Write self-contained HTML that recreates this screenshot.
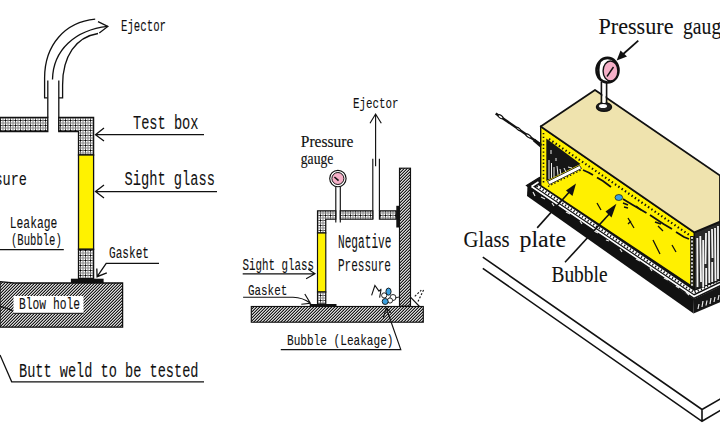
<!DOCTYPE html>
<html><head><meta charset="utf-8">
<style>
html,body{margin:0;padding:0;background:#fff;width:720px;height:426px;overflow:hidden}
svg{display:block}
text{font-family:"Liberation Mono",monospace;fill:#111;stroke:#111;stroke-width:0.1px}
text.sf{font-family:"Liberation Serif",serif;stroke-width:0.1px}
text.sm{stroke-width:0.15px}
</style></head><body>
<svg width="720" height="426" viewBox="0 0 720 426">
<defs>
<pattern id="grid" width="5" height="5" patternUnits="userSpaceOnUse">
<rect width="5" height="5" fill="#fff"/>
<rect x="0" y="0" width="5" height="1" fill="#555"/>
<rect x="0" y="0" width="1" height="5" fill="#555"/>
<rect x="0" y="2.5" width="5" height="1" fill="#888"/>
<rect x="2.5" y="0" width="1" height="5" fill="#888"/>
<rect x="0" y="0" width="1" height="1" fill="#000"/>
</pattern>
<pattern id="diag" width="3" height="3" patternUnits="userSpaceOnUse">
<rect width="3" height="3" fill="#dcdcdc"/>
<rect x="2" y="0" width="1" height="1" fill="#1a1a1a"/><rect x="1" y="0" width="1" height="1" fill="#8a8a8a"/>
<rect x="1" y="1" width="1" height="1" fill="#1a1a1a"/><rect x="0" y="1" width="1" height="1" fill="#8a8a8a"/>
<rect x="0" y="2" width="1" height="1" fill="#1a1a1a"/><rect x="2" y="2" width="1" height="1" fill="#8a8a8a"/>
</pattern>
</defs>

<g id="left" stroke="#111" stroke-width="1.3" fill="none">
<!-- hose -->
<path d="M47.4,97.8 L44.6,97.8 L44.6,78 C44.6,45 65,22 95.2,19.2"/>
<path d="M52.5,79.5 C53,50 75,30 107.8,26.4"/>
<path d="M58.8,97.8 L62.6,97.8 L62.6,85 C62.6,56 76,37 98,33.5"/>
<path d="M98,21.7 L107.8,26.4 L99.3,32.9"/>
<!-- pipe -->
<path d="M47.8,80.5 V117.5"/>
<path d="M58.8,80.5 V131.5"/>
<!-- hatched walls -->
<path d="M0,117.5 H47.8 V131.5 H0 Z" fill="url(#grid)"/>
<path d="M58.8,117.5 H93.6 V155 H78.5 V131.5 H58.8 Z" fill="url(#grid)"/>
<rect x="78.5" y="155" width="15.1" height="94.3" fill="#fff200"/>
<rect x="78.5" y="249.3" width="15.1" height="29.3" fill="url(#grid)"/>
<rect x="70.9" y="278.7" width="32.7" height="4.3" fill="#111" stroke="none"/>
<!-- base -->
<path d="M0,281.7 L14,283 H122.6 V327.2 H0 Z" fill="url(#diag)"/>
<!-- arrows -->
<path d="M204,134.7 H95.5 M104,128 L95.5,134.7 L104,141"/>
<path d="M217,191.6 H95.5 M104,185 L95.5,191.6 L104,198"/>
<path d="M159,263.4 H106.2 L97.1,276.7 M96.8,268.5 L97.1,276.7 L106.8,272.8"/>
<path d="M0,249.7 H63.8"/>
<path d="M0,355 L11.7,381.8 H204"/>
<path d="M0,306 L12.6,310.6"/>
</g>
<rect x="13.5" y="296" width="70" height="17.3" fill="#fff"/>
<path d="M13.5,313.3 H83.5" stroke="#111" stroke-width="1"/>

<g id="lefttext">
<text x="121" y="31" font-size="16.8" textLength="45" lengthAdjust="spacingAndGlyphs">Ejector</text>
<text x="133" y="129" font-size="19.7" textLength="65.5" lengthAdjust="spacingAndGlyphs">Test box</text>
<text x="124.5" y="185" font-size="19.7" textLength="90.5" lengthAdjust="spacingAndGlyphs">Sight glass</text>
<text x="-38" y="185.4" font-size="19" textLength="65" lengthAdjust="spacingAndGlyphs">Pressure</text>
<text x="9.8" y="227.6" font-size="16" textLength="47.5" lengthAdjust="spacingAndGlyphs">Leakage</text>
<text x="11" y="244.5" font-size="16" textLength="50.8" lengthAdjust="spacingAndGlyphs">(Bubble)</text>
<text x="109" y="257.9" font-size="16" textLength="40" lengthAdjust="spacingAndGlyphs">Gasket</text>
<text x="19" y="309.4" font-size="16" textLength="61" lengthAdjust="spacingAndGlyphs">Blow hole</text>
<text x="19" y="376.9" font-size="21" textLength="179.5" lengthAdjust="spacingAndGlyphs">Butt weld to be tested</text>
</g>

<g id="mid" stroke="#111" stroke-width="1.15" fill="none">
<path d="M375.6,114 V166.3 M370,123.3 L375.6,114 L381.3,123.3"/>
<path d="M372.8,158.8 V219.2"/>
<path d="M379.4,158.8 V210.8"/>
<circle cx="337.9" cy="178.5" r="8.2" fill="#fff"/>
<circle cx="337.9" cy="178.5" r="6" fill="#f6b0c8" stroke-width="1"/>
<path d="M334.4,177 L338.6,180.7" stroke-width="1.6"/>
<path d="M335.8,186.7 V222.5 M340.3,186.7 V222.5"/>
<path d="M317.5,210.8 H335.8 V219.2 H325.8 V233 H317.5 Z" fill="url(#grid)"/>
<path d="M340.3,210.8 H372.8 V219.2 H340.3 Z" fill="url(#grid)"/>
<path d="M379.4,210.8 H396.3 V219.2 H379.4 Z" fill="url(#grid)"/>
<rect x="317.5" y="233" width="8.3" height="59" fill="#fff200"/>
<rect x="317.5" y="292" width="8.3" height="12" fill="url(#grid)"/>
<rect x="396.3" y="205.8" width="3" height="21.7" fill="#111" stroke="none"/>
<rect x="399.5" y="168.2" width="11" height="138" fill="url(#diag)"/>
<rect x="251.3" y="306.5" width="172" height="15.7" fill="url(#diag)"/>
<rect x="309.7" y="304" width="26.8" height="2.8" fill="#111" stroke="none"/>
<path d="M410.5,297.2 L419.5,306.5"/>
<path d="M242.7,273.8 H315 M308.2,269.3 L315,273.8 L306.1,278.7"/>
<path d="M243.1,297.2 H293 Q303,297.5 310.4,303.2 M304.8,294 L310.4,303.2 L301.3,304.2"/>
<path d="M280.8,349.6 H400.8 L386.2,308 M383.4,317.5 L386.2,308 L391,312.6"/>
<path d="M414.8,296.3 L421.3,290.2 M418,301.5 L423.7,289.7" stroke-width="1.1" stroke-dasharray="2 1.6"/>
</g>
<g id="bubbles" stroke="#111" stroke-width="0.9">
<path d="M371.6,295.4 L374.9,285.5 L379,291.1 L381.4,288.8 M379.6,297.7 L381,290" fill="none" stroke-width="1.1"/>
<circle cx="384.2" cy="295.4" r="2.6" fill="#fff"/>
<circle cx="393" cy="297.5" r="3" fill="#fff"/>
<circle cx="390" cy="300.5" r="2.6" fill="#fff"/>
<ellipse cx="388.5" cy="291.6" rx="2.6" ry="3.6" fill="#3aa0e0"/>
<ellipse cx="385.2" cy="301.5" rx="3" ry="3" fill="#3aa0e0"/>
<path d="M395,298 L399,297" fill="none"/>
</g>
<g id="midtext">
<text x="353" y="108" font-size="15" textLength="45.5" lengthAdjust="spacingAndGlyphs">Ejector</text>
<text class="sf sm" x="300.8" y="147" font-size="16.2" textLength="52.5" lengthAdjust="spacingAndGlyphs">Pressure</text>
<text class="sf sm" x="300.8" y="164.3" font-size="16.2" textLength="32.5" lengthAdjust="spacingAndGlyphs">gauge</text>
<text x="338" y="248.3" font-size="19.5" textLength="53.5" lengthAdjust="spacingAndGlyphs">Negative</text>
<text x="338" y="271" font-size="18" textLength="53" lengthAdjust="spacingAndGlyphs">Pressure</text>
<text x="242.5" y="270" font-size="15.6" textLength="71.5" lengthAdjust="spacingAndGlyphs">Sight glass</text>
<text x="248" y="294.6" font-size="14.6" textLength="39.2" lengthAdjust="spacingAndGlyphs">Gasket</text>
<text x="287" y="344.6" font-size="15" textLength="106.5" lengthAdjust="spacingAndGlyphs">Bubble (Leakage)</text>
</g>

<g id="right">
<!-- board -->
<path d="M482.8,257.2 L702,409.5 L721,398.5 M482.8,268.3 L702,421.3 L721,410 M702,409.5 V421.3" stroke="#111" stroke-width="1.6" fill="none"/>
<!-- platform top surface -->
<path d="M526.5,185.5 L539.5,177.5 L720,270 L720,286 L694,298.5 Z" fill="#111" stroke="#111" stroke-width="1.2"/>
<path d="M531.5,186.5 L538.5,182 M531.5,186.5 L694,296.5 L720,284" stroke="#fff" stroke-width="1.6" fill="none"/>
<path d="M537,186 L694,292.5 L720,280" stroke="#fff" stroke-width="2.8" fill="none"/>
<path d="M537,186 L694,292.5 L720,280" stroke="#111" stroke-width="2.2" fill="none" stroke-dasharray="1.2 2.2"/>
<!-- platform front black -->
<path d="M527.5,185.5 L694,299 L693.5,313.5 L527,196 Z" fill="#111"/>
<path d="M694,299 L720,286.5 L720,302.3 L693.5,313.5 Z" fill="#161616"/>
<path d="M533,192 l2,4 M541,197 l4,2 M552,203 l2,3 M566,212 l4,2 M580,221 l2,3 M594,231 l4,2 M606,240 l3,1 M620,249 l2,3 M636,259 l4,2 M650,268 l2,3 M664,278 l4,2 M676,286 l3,2 M686,292 l3,3" stroke="#e8e8e8" stroke-width="1.2" fill="none"/>
<path d="M698,309 l1,-5 M702,307 l1,-6 M706,305.5 l1,-5 M710,304 l1,-6 M714,302 l1,-5 M718,300 l1,-5" stroke="#e8e8e8" stroke-width="1.2" fill="none"/>
<!-- box front (yellow) -->
<path d="M540.7,126.5 L694.4,232.4 L694.4,288 L540.7,185.5 Z" fill="#fff000" stroke="#111" stroke-width="1.4"/>
<!-- inner dark triangle -->
<path d="M546.3,138.5 L546.3,181 L580.5,164 Z" fill="#161616"/>
<path d="M549,160 V179 M551.5,163 V178 M554,167 V177 M557,166 l1,9 M560,169 l1,6 M564,168 l2,4 M568,167 l4,1 M551,150 v4 M556,158 v3" stroke="#eee" stroke-width="1" fill="none"/>
<!-- glass plate strip -->
<path d="M547.5,181.5 L579.5,165.5 L581.5,168.5 L549.5,184.5 Z" fill="#fff" stroke="#111" stroke-width="0.8"/>
<path d="M548,186.5 L582,169.5" stroke="#111" stroke-width="1.2" stroke-dasharray="1.5 2" fill="none"/>
<!-- dotted borders on yellow -->
<path d="M543.5,133 V183" stroke="#111" stroke-width="1.6" stroke-dasharray="1.3 2.4" fill="none"/>
<path d="M549,139 L690,235.5" stroke="#111" stroke-width="2.2" stroke-dasharray="1.4 2.6" fill="none"/>

<path d="M692,236 L692,288" stroke="#111" stroke-width="3.6" fill="none"/><path d="M692,237 L692,287" stroke="#fff" stroke-width="1.6" fill="none" stroke-dasharray="2 1.6"/>
<!-- streaks on glass -->
<path d="M583,170 Q588,172 593,175 M597,177.5 L603,181 L611,187 M623,199 L632,204.5 L646.5,213 M650,215 L663.5,224 L672,229 M676,232 L684,237 L689,239" stroke="#111" stroke-width="1.8" fill="none"/><path d="M623,203 l5,2 M636,206 l5,4 M655,222 l6,2" stroke="#111" stroke-width="1.6" fill="none"/>
<path d="M597,203 l4,7 M628,218 l6,10 M631,221 l-3,3 M653,240 l7,14 M672,245 l4,7 M624,207 l4,1 M658,226 l5,5" stroke="#111" stroke-width="1.3" fill="none"/>
<!-- right end face (wood) -->
<path d="M694.4,232.4 L720,221.7 L720,280 L694.4,290 Z" fill="#2a2a2a" stroke="#111" stroke-width="1.3"/>
<path d="M697.3,238 L697.5,287 M700.3,236 L701,282 M703.2,240 V287 M706,233 L705.5,264 M706.2,268 V285 M709,231 L709.3,283 M712,229 L712.5,258 M712.2,262 V282 M715,228 L715.5,281 M718,226 L718,279" stroke="#f2f2f2" stroke-width="1.8" fill="none"/>
<!-- top face -->
<path d="M540.7,126.5 L595,90 L720,175.5 L720,221.7 L694.4,232.4 Z" fill="#efe3ae" stroke="#111" stroke-width="1.8" stroke-linejoin="round"/>
<!-- bubble -->
<ellipse cx="618.8" cy="197.5" rx="3.8" ry="3" fill="#3aa0e0" stroke="#111" stroke-width="0.7"/>
<!-- gauge -->
<ellipse cx="604" cy="107" rx="7.5" ry="4.3" fill="#222" stroke="#111" stroke-width="1.5"/>
<ellipse cx="603" cy="106" rx="4" ry="2" fill="#fff"/>
<path d="M601.5,82 L601.5,103 M606.5,82 L606.5,103" stroke="#111" stroke-width="1.8"/>
<rect x="602.5" y="82" width="3" height="21" fill="#fff"/>
<ellipse cx="607.5" cy="70.2" rx="11" ry="12.3" fill="#fff" stroke="#111" stroke-width="2.6"/>
<path d="M600,62 Q597,70 600,79" stroke="#111" stroke-width="2" fill="none"/>
<ellipse cx="610.5" cy="71" rx="7.4" ry="10" fill="#f6b0c8" stroke="#111" stroke-width="1.4"/>
<path d="M613.5,67 L607,76.5" stroke="#111" stroke-width="1.4"/>
<path d="M638.3,40.6 L621,56" stroke="#111" stroke-width="1.8" fill="none"/><path d="M616.7,60.4 L620.5,50.5 L627,56.5 Z" fill="#111"/>
<!-- rope -->
<path d="M495.7,113.4 L540.8,144.4" stroke="#111" stroke-width="2.4" fill="none"/>
<g fill="#fff" stroke="#111" stroke-width="1.1">
<ellipse cx="500.5" cy="116.7" rx="2.8" ry="1.4" transform="rotate(34.5 500.5 116.7)"/>
<ellipse cx="518.5" cy="129" rx="2.2" ry="1" transform="rotate(34.5 518.5 129)"/>
<ellipse cx="528.5" cy="136" rx="3" ry="1.3" transform="rotate(34.5 528.5 136)"/>
</g>
<path d="M534,140 L541,146" stroke="#111" stroke-width="3" fill="none"/>
<!-- leaders -->
<path d="M537.2,227.9 L572,189" stroke="#111" stroke-width="1.6" fill="none"/><path d="M576,183.5 L566,190.5 L572.5,196 Z" fill="#111"/>
<path d="M565,262.3 L612,211" stroke="#111" stroke-width="1.6" fill="none"/><path d="M616.4,203.8 L605.5,211.5 L611.5,217.5 Z" fill="#111"/>
<text class="sf" x="598.5" y="33.8" font-size="23" textLength="75" lengthAdjust="spacingAndGlyphs">Pressure</text><text class="sf" x="683" y="33.8" font-size="23" textLength="47" lengthAdjust="spacingAndGlyphs">gauge</text>
<text class="sf" x="463.5" y="247.2" font-size="23.5" textLength="46" lengthAdjust="spacingAndGlyphs">Glass</text><text class="sf" x="519.5" y="247.2" font-size="23.5" textLength="46.5" lengthAdjust="spacingAndGlyphs">plate</text>
<text class="sf" x="551.5" y="282" font-size="23.5" textLength="56" lengthAdjust="spacingAndGlyphs">Bubble</text>
</g>
</svg>
</body></html>
